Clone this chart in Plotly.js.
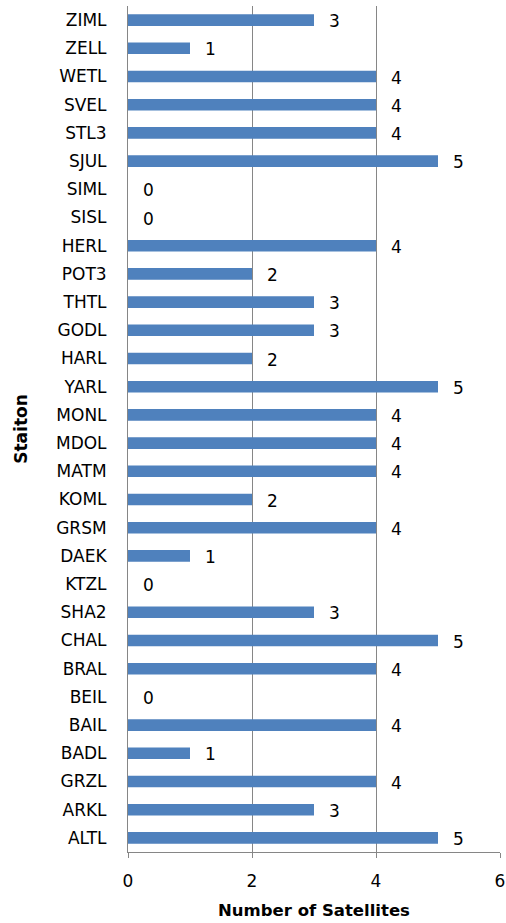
<!DOCTYPE html>
<html><head><meta charset="utf-8">
<script src="https://cdn.plot.ly/plotly-3.0.1.min.js"></script>
<style>body{margin:0;padding:0;background:#fff}#c{width:506px;height:923px}</style>
</head><body><div id="c"></div>
<script>
var stations = ["ALTL","ARKL","GRZL","BADL","BAIL","BEIL","BRAL","CHAL","SHA2","KTZL","DAEK","GRSM","KOML","MATM","MDOL","MONL","YARL","HARL","GODL","THTL","POT3","HERL","SISL","SIML","SJUL","STL3","SVEL","WETL","ZELL","ZIML"];
var satellites = [5,3,4,1,4,0,4,5,3,0,1,4,2,4,4,4,5,2,3,3,2,4,0,0,5,4,4,4,1,3];
var xTicks = [0,2,4,6];

var font = "DejaVu Sans, sans-serif";
var trace = {
  type: "bar", orientation: "h",
  x: satellites, y: stations,
  marker: {color: "#4F81BD"},
  width: 0.41,
  hoverinfo: "none"
};
var annotations = stations.map(function(s, i){
  return {x: satellites[i], y: s, xref: "x", yref: "y", text: String(satellites[i]),
    showarrow: false, xanchor: "left", xshift: 13, yshift: -1,
    font: {family: font, size: 17, color: "#000"}};
});
var layout = {
  width: 506, height: 923,
  margin: {l: 128, r: 6, t: 6, b: 71},
  paper_bgcolor: "#fff", plot_bgcolor: "#fff",
  showlegend: false,
  xaxis: {
    range: [0, 6], tickvals: xTicks, ticktext: xTicks.map(String),
    showgrid: true, gridcolor: "#868686", gridwidth: 1,
    zeroline: false, showline: true, linecolor: "#868686", linewidth: 1, mirror: false,
    ticks: "outside", ticklen: 5, tickcolor: "#868686",
    ticklabelstandoff: 9,
    tickfont: {family: font, size: 17, color: "#000"},
    title: {text: "<b>Number of Satellites</b>", font: {family: font, size: 16.5, color: "#000"}, standoff: 14},
    automargin: false, fixedrange: true
  },
  yaxis: {
    type: "category", categoryorder: "array", categoryarray: stations,
    range: [-0.5, stations.length - 0.5],
    showgrid: false, zeroline: false, showline: true, linecolor: "#868686", linewidth: 1,
    ticks: "", ticklen: 0,
    ticklabelstandoff: 17,
    tickfont: {family: font, size: 17, color: "#000"},
    title: {text: "<b>Staiton</b>", font: {family: font, size: 17, color: "#000"}, standoff: 24},
    automargin: false, fixedrange: true
  },
  annotations: annotations
};
Plotly.newPlot("c", [trace], layout, {displayModeBar: false, staticPlot: true});
</script></body></html>
